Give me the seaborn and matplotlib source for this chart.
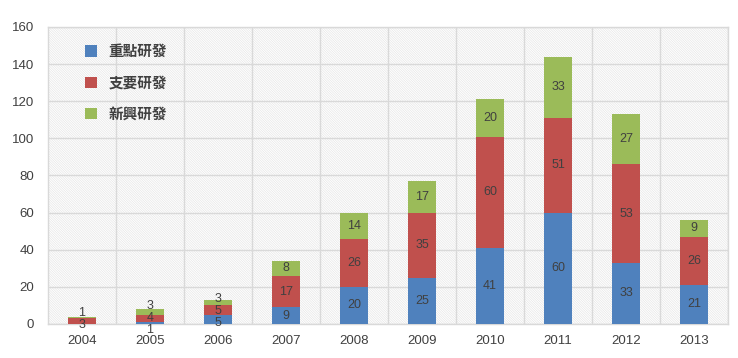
import numpy as np
import pandas as pd
import matplotlib
matplotlib.use("Agg")
import matplotlib.pyplot as plt
from matplotlib.patches import Rectangle, Patch
import seaborn as sns

# === DATA ===
years = ["2004", "2005", "2006", "2007", "2008", "2009", "2010", "2011", "2012", "2013"]
key_rd = [0, 1, 5, 9, 20, 25, 41, 60, 33, 21]
main_rd = [3, 4, 5, 17, 26, 35, 60, 51, 53, 26]
new_rd = [1, 3, 3, 8, 14, 17, 20, 33, 27, 9]
series_names = ["重點研發", "支要研發", "新興研發"]
y_ticks = [0, 20, 40, 60, 80, 100, 120, 140, 160]

colors = ["#4F81BD", "#C0504D", "#9BBB59"]
txt = "#404040"
grid_c = "#d9d9d9"

sns.set_style("white")
plt.rcParams["font.family"] = ["Liberation Sans", "DejaVu Sans"]
plt.rcParams["hatch.linewidth"] = 0.5
plt.rcParams["hatch.color"] = "#e6e6e6"

fig = plt.figure(figsize=(7.38, 3.58), dpi=100)
ax = fig.add_axes([0.065, 0.095, 0.9215, 0.8296])

# hatched plot-area background
ax.add_patch(Rectangle((0, 0), 1, 1, transform=ax.transAxes, facecolor="white",
                       edgecolor="#e6e6e6", hatch="\\" * 14, lw=0, zorder=-5))

vals = np.array([key_rd, main_rd, new_rd])
cum = vals.cumsum(axis=0)

# draw tallest stack first so lower segments sit on top
for i in [2, 1, 0]:
    df = pd.DataFrame({"year": years, "v": cum[i]})
    sns.barplot(data=df, x="year", y="v", order=years, color=colors[i],
                width=0.4, saturation=1, linewidth=0, edgecolor="none", ax=ax)

# make sure bars sit above grid and hatch, in drawing order
for n, cont in enumerate(ax.containers):
    for bar in cont:
        bar.set_zorder(3 + n * 0.1)
        bar.set_hatch(None)

ax.set_xlim(-0.5, len(years) - 0.5)
ax.set_ylim(0, 160)
ax.set_yticks(y_ticks)
ax.set_xticks(np.arange(len(years)) + 0.5, minor=True)
ax.grid(True, which="minor", axis="x", color=grid_c, lw=1, zorder=1)
ax.grid(True, which="major", axis="y", color=grid_c, lw=1, zorder=1)
ax.set_axisbelow(True)
ax.tick_params(axis="both", which="both", length=0, labelsize=9.5, colors=txt)
ax.tick_params(axis="x", pad=8)
ax.tick_params(axis="y", pad=10)
ax.set_xlabel("")
ax.set_ylabel("")
for s in ax.spines.values():
    s.set_color(grid_c)
    s.set_linewidth(1)

# === data labels with simple overlap avoidance ===
fig.canvas.draw()
def spread(ys, gap):
    ys = list(ys)
    for _ in range(100):
        moved = False
        for k in range(len(ys) - 1):
            d = ys[k + 1] - ys[k]
            if d < gap:
                s = (gap - d) / 2
                ys[k] -= s
                ys[k + 1] += s
                moved = True
        if not moved:
            break
    return ys

for j in range(len(years)):
    items = []
    for i in range(3):
        v = vals[i, j]
        if v == 0:
            continue
        centre = cum[i, j] - v / 2
        py = ax.transData.transform((j, centre))[1]
        items.append((py, v))
    pys = spread([p for p, _ in items], 12)
    inv = ax.transData.inverted()
    for py, (_, v) in zip(pys, items):
        yd = inv.transform((0, py))[1]
        ax.text(j, yd, str(v), ha="center", va="center", fontsize=9,
                color=txt, zorder=5, clip_on=False)

# === legend ===
handles = [Patch(facecolor=c, edgecolor="none") for c in colors]
leg = ax.legend(handles, series_names, loc="upper left", bbox_to_anchor=(0.035, 0.99),
                frameon=False, handlelength=0.8, handleheight=0.8, handletextpad=0.8,
                labelspacing=1.05,
                prop={"family": ["Noto Sans CJK TC", "DejaVu Sans"], "size": 10.5, "weight": "bold"})
for t in leg.get_texts():
    t.set_color(txt)

fig.savefig("out.png", dpi=100)
